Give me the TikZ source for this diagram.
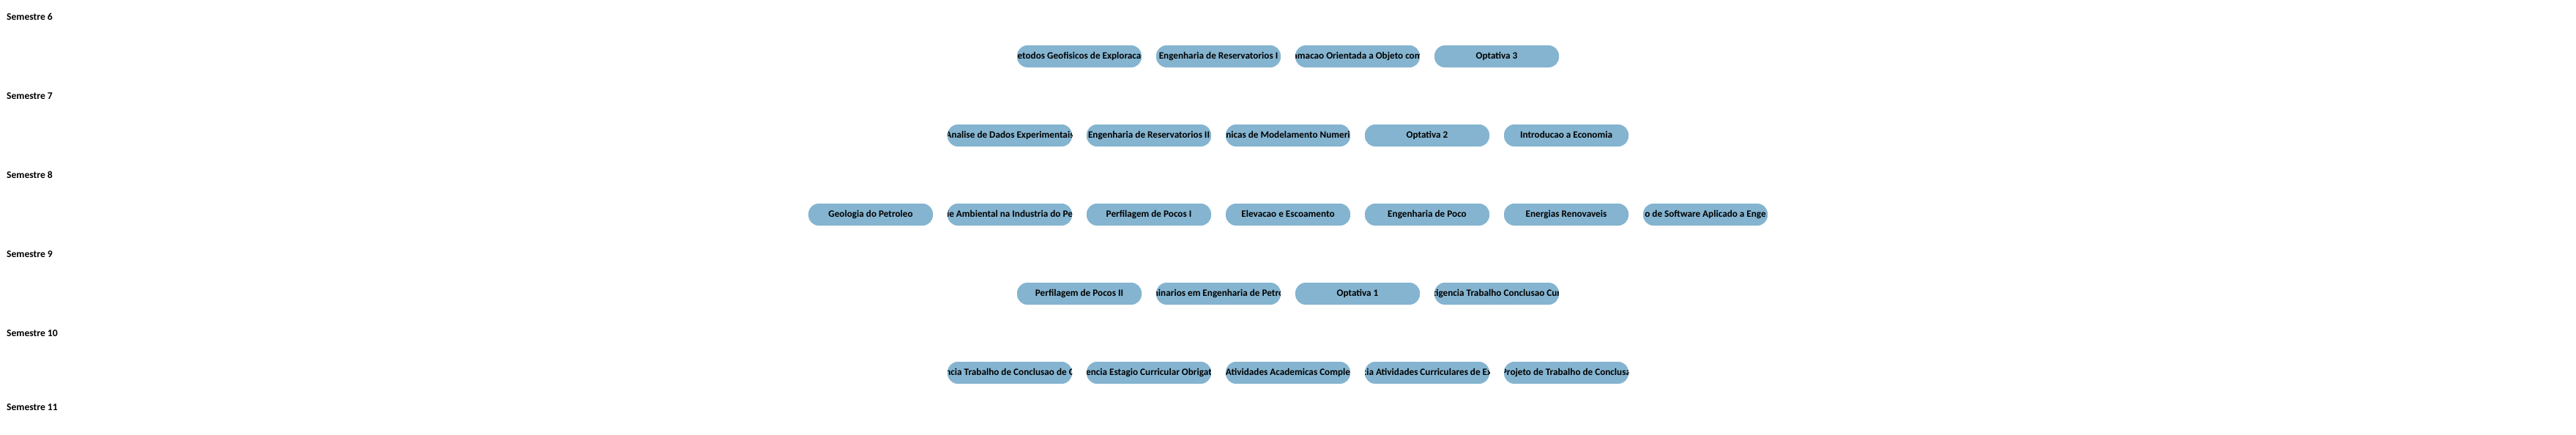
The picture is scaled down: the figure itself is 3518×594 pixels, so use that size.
\documentclass[tikz,border=0pt]{standalone}
\usepackage{fontspec}
\setmainfont{Carlito}
\definecolor{boxblue}{RGB}{132,180,208}
\tikzset{
  course/.style={rounded corners=14pt, fill=boxblue, draw=none,
    minimum width=170pt, minimum height=30pt, inner sep=0pt},
  coursetext/.style={font=\fontsize{13.2}{15}\selectfont\bfseries, inner sep=0pt,
    text=black, text height=9pt, text depth=2.7pt},
  semlabel/.style={anchor=west, font=\fontsize{13.6}{16}\selectfont\bfseries, inner sep=0pt, text=black},
}
\newcommand\coursebox[4]{%
  \node[course, path picture={\node[coursetext] at ([yshift=-0.5pt]path picture bounding box.center) {#4};}] (#1) at (#2,#3) {};}
\begin{document}
\begin{tikzpicture}[x=1pt,y=-1pt]
\useasboundingbox (0,0) rectangle (3518,594);
\fill[white] (0,0) rectangle (3518,594);
% semester labels
\node[semlabel] (sem6) at (9,23) {Semestre 6};
\node[semlabel] (sem7) at (9,131) {Semestre 7};
\node[semlabel] (sem8) at (9,239) {Semestre 8};
\node[semlabel] (sem9) at (9,347) {Semestre 9};
\node[semlabel] (sem10) at (9,455) {Semestre 10};
\node[semlabel] (sem11) at (9,556) {Semestre 11};
% semester 6
\coursebox{a1}{1474}{77}{etodos Geofisicos de Exploraca}
\coursebox{a2}{1664}{77}{Engenharia de Reservatorios I}
\coursebox{a3}{1854}{77}{amacao Orientada a Objeto com}
\coursebox{a4}{2044}{77}{Optativa 3}
% semester 7
\coursebox{b1}{1379}{185}{Analise de Dados Experimentais}
\coursebox{b2}{1569}{185}{Engenharia de Reservatorios II}
\coursebox{b3}{1759}{185}{nicas de Modelamento Numeri}
\coursebox{b4}{1949}{185}{Optativa 2}
\coursebox{b5}{2139}{185}{Introducao a Economia}
% semester 8
\coursebox{c1}{1189}{293}{Geologia do Petroleo}
\coursebox{c2}{1379}{293}{le Ambiental na Industria do Pe}
\coursebox{c3}{1569}{293}{Perfilagem de Pocos I}
\coursebox{c4}{1759}{293}{Elevacao e Escoamento}
\coursebox{c5}{1949}{293}{Engenharia de Poco}
\coursebox{c6}{2139}{293}{Energias Renovaveis}
\coursebox{c7}{2329}{293}{o de Software Aplicado a Enge}
% semester 9
\coursebox{d1}{1474}{401}{Perfilagem de Pocos II}
\coursebox{d2}{1664}{401}{ninarios em Engenharia de Petro}
\coursebox{d3}{1854}{401}{Optativa 1}
\coursebox{d4}{2044}{401}{tigencia Trabalho Conclusao Cur}
% semester 10
\coursebox{e1}{1379}{509}{ncia Trabalho de Conclusao de C}
\coursebox{e2}{1569}{509}{encia Estagio Curricular Obrigat}
\coursebox{e3}{1759}{509}{Atividades Academicas Comple}
\coursebox{e4}{1949}{509}{cia Atividades Curriculares de Ex}
\coursebox{e5}{2139}{509}{Projeto de Trabalho de Conclusa}
\end{tikzpicture}
\end{document}
